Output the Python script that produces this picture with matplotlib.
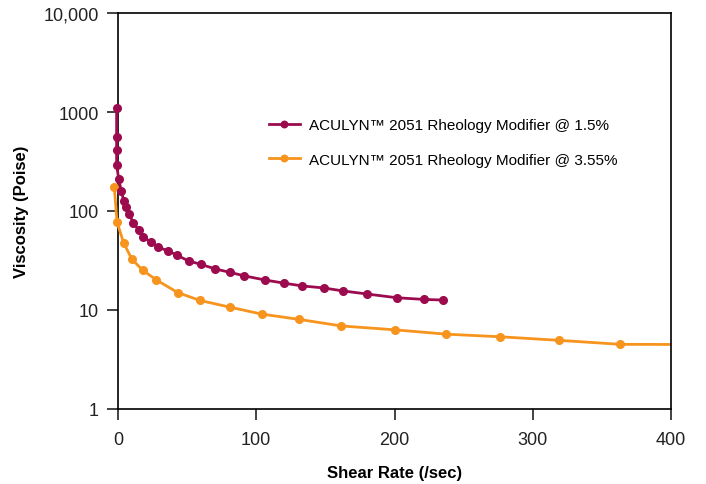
import matplotlib
matplotlib.use("Agg")
import matplotlib.pyplot as plt
from matplotlib.ticker import FixedLocator, NullLocator

plt.rcParams['font.family'] = ['Liberation Sans', 'DejaVu Sans']

# Data
shear_15 = [-1, -1, -1, -1, 0.5, 2.4, 4.3, 6, 8.2, 11, 15.2, 18.1, 23.9, 29.2, 36, 42.5,
            51, 60, 70.3, 81, 91.5, 106.3, 119.8, 133.3, 148.8, 162.5, 180.2, 201.7, 221, 235.3]
visc_15 = [1100, 555, 416, 292, 211, 158, 126, 109, 92.6, 76, 63.8, 55, 48.3, 43, 39.7, 35.9,
           31.3, 28.9, 26, 24.0, 22.1, 20.1, 18.7, 17.5, 16.7, 15.6, 14.5, 13.3, 12.8, 12.6]

shear_355 = [-2.7, -0.7, 4.1, 10.1, 17.9, 27.8, 43.2, 59.2, 80.7, 103.8, 130.7, 161.6,
             200.7, 237.4, 276, 318.8, 363.3]
visc_355 = [175, 77.4, 47.5, 32.5, 25.2, 20.1, 15.0, 12.5, 10.7, 9.1, 8.05, 6.9,
            6.3, 5.7, 5.37, 4.94, 4.5]
# segment continuing beyond the plotted x range
tail_x = [363.3, 420]
tail_y = [4.5, 4.48]

y_ticks = [1, 10, 100, 1000, 10000]
y_labels = ['1', '10', '100', '1000', '10,000']
x_ticks = [0, 100, 200, 300, 400]

label_15 = 'ACULYN™ 2051 Rheology Modifier @ 1.5%'
label_355 = 'ACULYN™ 2051 Rheology Modifier @ 3.55%'

purple = '#9B0B4E'
orange = '#F7941D'

fig = plt.figure(figsize=(7.06, 4.85), dpi=100)
ax = fig.add_axes([118 / 706, 75 / 485, 553 / 706, 396 / 485])

ax.plot(tail_x, tail_y, color=orange, lw=2)
ax.plot(shear_355, visc_355, color=orange, lw=2, marker='o', ms=5.5, clip_on=False,
        label=label_355, zorder=3)
ax.plot(shear_15, visc_15, color=purple, lw=2, marker='o', ms=5.5, clip_on=False,
        label=label_15, zorder=4)

ax.set_yscale('log')
ax.set_ylim(1, 10000)
ax.set_xlim(0, 400)
ax.yaxis.set_major_locator(FixedLocator(y_ticks))
ax.set_yticklabels(y_labels)
ax.yaxis.set_minor_locator(NullLocator())
ax.set_xticks(x_ticks)

for s in ax.spines.values():
    s.set_linewidth(1.2)
    s.set_color('black')
ax.tick_params(axis='both', direction='out', length=8, width=1.2, labelsize=13,
               colors='#222222')
ax.tick_params(axis='x', pad=8)
ax.tick_params(axis='y', pad=6)

ax.set_xlabel('Shear Rate (/sec)', fontsize=12, fontweight='bold', labelpad=12)
ax.set_ylabel('Viscosity (Poise)', fontsize=12, fontweight='bold', labelpad=10)

handles, labels = ax.get_legend_handles_labels()
leg = ax.legend(handles[::-1], labels[::-1], loc='upper left',
                bbox_to_anchor=(269 / 706, 1 - 119 / 485), bbox_transform=fig.transFigure,
                frameon=False, fontsize=11, handlelength=2.0, handletextpad=0.65,
                labelspacing=1.35, borderpad=0, borderaxespad=0, markerscale=0.85)

fig.savefig('out.png', dpi=100)
